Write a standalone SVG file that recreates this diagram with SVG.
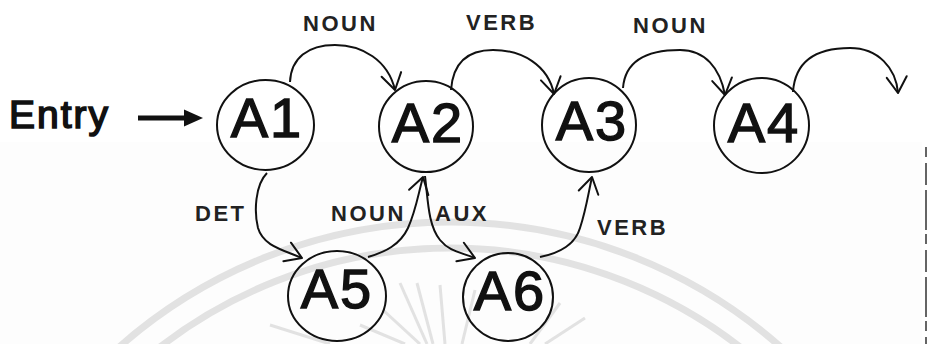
<svg xmlns="http://www.w3.org/2000/svg" width="927" height="344" viewBox="0 0 927 344">
  <style>
    .node ellipse { fill: none; stroke: #111; stroke-width: 2; }
    .node text { font-family: "Liberation Sans", Arial, sans-serif; font-size: 56px; letter-spacing: 2px; fill: #111; stroke: #111; stroke-width: 1.4; text-anchor: middle; }
    .edge { fill: none; stroke: #111; stroke-width: 2; marker-end: url(#vhead); }
    .lbl { font-family: "Liberation Sans", Arial, sans-serif; font-weight: bold; font-size: 22px; letter-spacing: 2.5px; fill: #222; }
    .seal { fill: none; stroke: #e2e2e2; }
  </style>
  <defs>
    <marker id="vhead" viewBox="-18 -12 20 24" refX="0" refY="0" markerWidth="20" markerHeight="24" markerUnits="userSpaceOnUse" orient="auto" overflow="visible">
      <path d="M-16,-10 L0,0 L-16,10" fill="none" stroke="#111" stroke-width="2" stroke-linecap="round" stroke-linejoin="round"/>
    </marker>
  </defs>

  <rect width="927" height="344" fill="#ffffff"/>
  <rect x="0" y="142" width="922" height="202" fill="#fdfdfd"/>
  <line x1="926" y1="147" x2="926" y2="344" stroke="#333" stroke-width="1.5" stroke-dasharray="10 6 22 5 40 4"/>

  <!-- faint background seal -->
  <g id="seal">
    <circle class="seal" cx="450" cy="722" r="500" stroke-width="7"/>
    <circle class="seal" cx="450" cy="722" r="474" stroke-width="7"/>
    <g stroke-width="3">
      <line class="seal" x1="400" y1="283" x2="427" y2="344"/>
      <line class="seal" x1="417" y1="283" x2="433" y2="344"/>
      <line class="seal" x1="383" y1="310" x2="420" y2="344"/>
      <line class="seal" x1="360" y1="325" x2="405" y2="344"/>
      <line class="seal" x1="440" y1="285" x2="445" y2="344"/>
      <line class="seal" x1="475" y1="290" x2="462" y2="344"/>
      <line class="seal" x1="560" y1="303" x2="530" y2="344"/>
      <line class="seal" x1="585" y1="318" x2="545" y2="344"/>
      <line class="seal" x1="270" y1="325" x2="330" y2="344"/>
    </g>
  </g>

  <!-- entry point -->
  <g id="entry">
    <text x="9" y="128" font-family="Liberation Sans, Arial, sans-serif" font-size="39" letter-spacing="2" fill="#111" stroke="#111" stroke-width="1.6">Entry</text>
    <line x1="138" y1="118" x2="188" y2="118" stroke="#111" stroke-width="5"/>
    <polygon points="184,109.5 203,118 184,126.5" fill="#111"/>
  </g>

  <!-- states -->
  <g id="A1" class="node"><ellipse cx="265.5" cy="125" rx="48.5" ry="45"/><text x="267" y="137">A1</text></g>
  <g id="A2" class="node"><ellipse cx="426" cy="126.5" rx="47" ry="45.5"/><text x="428" y="142">A2</text></g>
  <g id="A3" class="node"><ellipse cx="589" cy="125" rx="47" ry="47"/><text x="592" y="140">A3</text></g>
  <g id="A4" class="node"><ellipse cx="761.5" cy="125.5" rx="47.5" ry="47.5"/><text x="764" y="142">A4</text></g>
  <g id="A5" class="node"><ellipse cx="337" cy="296" rx="49" ry="45"/><text x="337" y="308">A5</text></g>
  <g id="A6" class="node"><ellipse cx="508" cy="297" rx="45" ry="44"/><text x="510" y="310">A6</text></g>

  <!-- transitions -->
  <g id="connectors">
    <path class="edge" d="M290,82 C291,58 308,45 335,45 C362,45 388,60 395,90"/>
    <path class="edge" d="M451,90 C453,62 468,50 493,50 C522,50 548,65 554,94"/>
    <path class="edge" d="M623,88 C625,62 645,50 680,50 C705,50 720,68 725,95"/>
    <path class="edge" d="M793,92 C795,62 815,48 850,48 C878,48 896,68 898,93"/>
    <path class="edge" d="M267,173 C255,185 254,212 258,228 C263,245 280,249 302,258"/>
    <path class="edge" d="M368,257 C385,252 400,245 408,228 C416,210 418,195 423,177"/>
    <path class="edge" d="M425,176 C428,200 428,225 440,240 C450,252 460,252 475,258"/>
    <path class="edge" d="M540,257 C560,253 575,245 580,228 C586,210 588,195 592,177"/>
  </g>

  <!-- transition labels -->
  <g id="labels">
    <text class="lbl" x="303" y="31">NOUN</text>
    <text class="lbl" x="466" y="30">VERB</text>
    <text class="lbl" x="633" y="33">NOUN</text>
    <text class="lbl" x="195" y="221">DET</text>
    <text class="lbl" x="331" y="221">NOUN</text>
    <text class="lbl" x="435" y="221">AUX</text>
    <text class="lbl" x="597" y="235">VERB</text>
  </g>
</svg>
